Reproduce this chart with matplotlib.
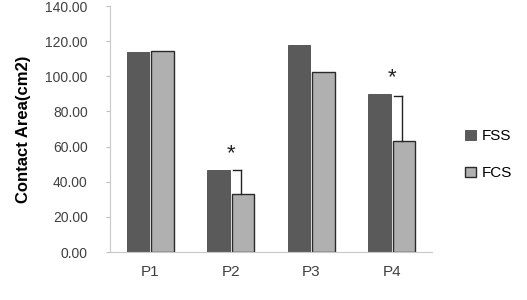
import numpy as np
import matplotlib.pyplot as plt

plt.rcParams.update({
    'font.family': ['Liberation Sans', 'DejaVu Sans'],
    'font.size': 10,
})

categories = ['P1', 'P2', 'P3', 'P4']
fss = [113.8, 46.7, 117.8, 90.0]
fcs = [114.2, 33.0, 102.5, 63.2]
fcs_err_top = [None, 46.7, None, 88.5]
star_y = [None, 56.0, None, 99.0]

fig = plt.figure(figsize=(5.27, 3.0), dpi=100)
ax = fig.add_axes([0.2087, 0.16, 0.611, 0.82])

x = np.arange(len(categories))
width = 0.28
off = 0.15
ax.bar(x - off, fss, width, color='#5a5a5a', edgecolor='#4a4a4a', linewidth=0.6, label='FSS')
ax.bar(x + off, fcs, width, color='#b0b0b0', edgecolor='#2a2a2a', linewidth=1.0, label='FCS')

# one-sided error markers and significance stars
for i in range(len(categories)):
    if fcs_err_top[i] is not None:
        xe = x[i] + off - 0.02
        ax.plot([xe, xe], [fcs[i], fcs_err_top[i]], color='#222222', lw=1.0)
        ax.plot([xe - 0.1, xe], [fcs_err_top[i], fcs_err_top[i]], color='#222222', lw=1.0)
    if star_y[i] is not None:
        ax.text(x[i], star_y[i], '*', ha='center', va='center', fontsize=16, color='#222222')

ax.set_xlim(-0.5, 3.5)
ax.set_ylim(0, 140)
ax.set_yticks(np.arange(0, 141, 20))
ax.set_yticklabels([f'{v:.2f}' for v in np.arange(0, 141, 20)], color='#404040', fontsize=10)
ax.set_xticks(x)
ax.set_xticklabels(categories, color='#404040', fontsize=11)
ax.tick_params(axis='x', length=0, pad=9)
ax.tick_params(axis='y', length=3, color='#bfbfbf', pad=13)
ax.set_ylabel('Contact Area(cm2)', fontsize=12, fontweight='bold', labelpad=10)

for side in ['top', 'right']:
    ax.spines[side].set_visible(False)
ax.spines['left'].set_color('#c8c8c8')
ax.spines['bottom'].set_color('#c8c8c8')

ax.legend(loc='center left', bbox_to_anchor=(1.06, 0.395), frameon=False,
          handlelength=0.7, handleheight=0.7, labelspacing=1.5, fontsize=11,
          handletextpad=0.4)

fig.savefig('out.png', dpi=100)
